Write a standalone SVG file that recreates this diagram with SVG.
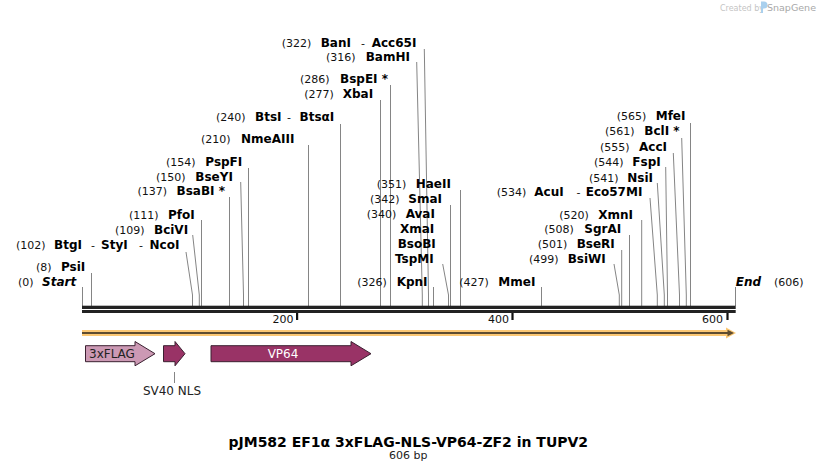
<svg xmlns="http://www.w3.org/2000/svg" width="818" height="472" viewBox="0 0 818 472">
<style>
text{font-family:"DejaVu Sans",Verdana,sans-serif}
.n{font-size:11px;fill:#111}
.e{font-size:12px;font-weight:bold;fill:#000}
.ei{font-size:12px;font-weight:bold;font-style:italic;fill:#000}
.ln{fill:none;stroke:#858585;stroke-width:1}
.tk{font-size:11px;fill:#111;text-anchor:end}
.ft{stroke:#3a2030;stroke-width:1}
</style>
<rect width="818" height="472" fill="#fff"/>
<g id="watermark">
<text x="720" y="10.5" style="font-size:8px;fill:#c4c4c4">Created by</text>
<path d="M761,1.5 h3 a3.5,3.5 0 0 1 0,7 h-1 v4.5 h-2 z" fill="#a9d0ee"/>
<text x="767" y="11" style="font-size:9.5px;fill:#a8a8a8">SnapGene</text>
</g>
<g id="connectors">
<path class="ln" d="M82.5,287V306"/>
<path class="ln" d="M91.5,273V306"/>
<path class="ln" d="M186,252L192.5,295V306"/>
<path class="ln" d="M192.7,235L199.3,295V306"/>
<path class="ln" d="M201.5,220V306"/>
<path class="ln" d="M229.5,197V306"/>
<path class="ln" d="M240.7,182L243.5,295V306"/>
<path class="ln" d="M248.5,168V306"/>
<path class="ln" d="M308.5,145V306"/>
<path class="ln" d="M340.5,124V306"/>
<path class="ln" d="M380.5,100V306"/>
<path class="ln" d="M390.5,85V306"/>
<path class="ln" d="M416.7,62L422.3,295V306"/>
<path class="ln" d="M424.3,49L428.5,295V306"/>
<path class="ln" d="M433.5,287V306"/>
<path class="ln" d="M442.7,264L448.5,295V306"/>
<path class="ln" d="M450.5,205V306"/>
<path class="ln" d="M460.5,190V306"/>
<path class="ln" d="M541.5,287V306"/>
<path class="ln" d="M614,264L619.3,295V306"/>
<path class="ln" d="M621.7,250V306"/>
<path class="ln" d="M629.5,235V306"/>
<path class="ln" d="M641.7,220V306"/>
<path class="ln" d="M650,198L657.3,295V306"/>
<path class="ln" d="M657.3,183L664.3,295V306"/>
<path class="ln" d="M665.7,167L667.5,295V306"/>
<path class="ln" d="M673.3,153L679.5,295V306"/>
<path class="ln" d="M681.7,138L686.3,295V306"/>
<path class="ln" d="M690.5,123V306"/>
<path class="ln" d="M735.5,287V306"/>
<path class="ln" d="M174.5,372V383"/>
</g>
<g id="sequence">
<rect x="82" y="305.7" width="653.7" height="3.3" fill="#222"/>
<rect x="82" y="310" width="653.7" height="3" fill="#222"/>
<rect x="296" y="313" width="2.2" height="7" fill="#111"/>
<rect x="511.4" y="313" width="2.2" height="7" fill="#111"/>
<rect x="726.4" y="313" width="2.2" height="7" fill="#111"/>
<text class="tk" x="293.5" y="323">200</text>
<text class="tk" x="509" y="323">400</text>
<text class="tk" x="723" y="323">600</text>
</g>
<g id="orf">
<rect x="82" y="330" width="646" height="6" fill="#fcc874"/>
<polygon points="726,327.5 736,333 726,338.5" fill="#fcc874"/>
<rect x="82" y="332" width="647" height="2" fill="#5e4c30"/>
<polygon points="727.5,329.8 734,333 727.5,336.2" fill="#5e4c30"/>
</g>
<g id="f-3xFLAG">
<polygon class="ft" points="85.5,345.7 135,345.7 135,341.5 155,353.7 135,365.8 135,361.7 85.5,361.7" fill="#cc99b4"/>
<text x="89" y="357.7" style="font-size:12px;fill:#222">3xFLAG</text>
</g>
<g id="f-SV40NLS">
<polygon class="ft" points="163.5,345.7 175,345.7 175,341.5 185,353.7 175,365.8 175,361.7 163.5,361.7" fill="#993366"/>
<text x="172" y="394.5" text-anchor="middle" style="font-size:12px;fill:#222">SV40 NLS</text>
</g>
<g id="f-VP64">
<polygon class="ft" points="211,345.7 351,345.7 351,341.5 371,353.7 351,365.8 351,361.7 211,361.7" fill="#993366"/>
<text x="283" y="357.7" text-anchor="middle" style="font-size:12px;fill:#fff">VP64</text>
</g>
<g id="e0"><text class="n" x="18" y="286">(0)</text><text class="ei" x="42" y="286">Start</text></g>
<g id="e8"><text class="n" x="36" y="271">(8)</text><text class="e" x="61" y="271">PsiI</text></g>
<g id="e102"><text class="n" x="16" y="249">(102)</text><text class="e" x="54" y="249">BtgI</text><text class="n" x="91" y="249">-</text><text class="e" x="101" y="249">StyI</text><text class="n" x="139" y="249">-</text><text class="e" x="149.5" y="249">NcoI</text></g>
<g id="e109"><text class="n" x="115" y="233.5">(109)</text><text class="e" x="154" y="233.5">BciVI</text></g>
<g id="e111"><text class="n" x="129" y="218.5">(111)</text><text class="e" x="168" y="218.5">PfoI</text></g>
<g id="e137"><text class="n" x="137.5" y="195">(137)</text><text class="e" x="176.5" y="195">BsaBI *</text></g>
<g id="e150"><text class="n" x="156" y="180.5">(150)</text><text class="e" x="195.3" y="180.5">BseYI</text></g>
<g id="e154"><text class="n" x="166" y="165.5">(154)</text><text class="e" x="205.3" y="165.5">PspFI</text></g>
<g id="e210"><text class="n" x="201" y="142.5">(210)</text><text class="e" x="241" y="142.5">NmeAIII</text></g>
<g id="e240"><text class="n" x="216" y="120.7">(240)</text><text class="e" x="255" y="120.7">BtsI</text><text class="n" x="287" y="120.7">-</text><text class="e" x="299.5" y="120.7">BtsαI</text></g>
<g id="e277"><text class="n" x="304.3" y="98.3">(277)</text><text class="e" x="342.7" y="98.3">XbaI</text></g>
<g id="e286"><text class="n" x="300" y="83.3">(286)</text><text class="e" x="340" y="83.3">BspEI *</text></g>
<g id="e316"><text class="n" x="326" y="61">(316)</text><text class="e" x="365.7" y="61">BamHI</text></g>
<g id="e322"><text class="n" x="281.7" y="46.7">(322)</text><text class="e" x="320.7" y="46.7">BanI</text><text class="n" x="361" y="46.7">-</text><text class="e" x="371.7" y="46.7">Acc65I</text></g>
<g id="e326"><text class="n" x="357.3" y="286">(326)</text><text class="e" x="396.7" y="286">KpnI</text></g>
<g id="e340"><text class="n" x="366.7" y="218.3">(340)</text><text class="e" x="405.7" y="218.3">AvaI</text><text class="e" x="400" y="233.3">XmaI</text><text class="e" x="397.7" y="248.3">BsoBI</text><text class="e" x="395" y="263">TspMI</text></g>
<g id="e342"><text class="n" x="370" y="203.3">(342)</text><text class="e" x="408.3" y="203.3">SmaI</text></g>
<g id="e351"><text class="n" x="376.7" y="188.3">(351)</text><text class="e" x="415.7" y="188.3">HaeII</text></g>
<g id="e427"><text class="n" x="459.3" y="286">(427)</text><text class="e" x="498.3" y="286">MmeI</text></g>
<g id="e499"><text class="n" x="529" y="262.7">(499)</text><text class="e" x="567.7" y="262.7">BsiWI</text></g>
<g id="e501"><text class="n" x="537.7" y="248.3">(501)</text><text class="e" x="576.7" y="248.3">BseRI</text></g>
<g id="e508"><text class="n" x="544.3" y="233.3">(508)</text><text class="e" x="584.3" y="233.3">SgrAI</text></g>
<g id="e520"><text class="n" x="559.3" y="219">(520)</text><text class="e" x="598.3" y="219">XmnI</text></g>
<g id="e534"><text class="n" x="496.7" y="196">(534)</text><text class="e" x="534.3" y="196">AcuI</text><text class="n" x="576.5" y="196">-</text><text class="e" x="585.7" y="196">Eco57MI</text></g>
<g id="e541"><text class="n" x="589" y="181.7">(541)</text><text class="e" x="627.3" y="181.7">NsiI</text></g>
<g id="e544"><text class="n" x="594" y="166">(544)</text><text class="e" x="632.3" y="166">FspI</text></g>
<g id="e555"><text class="n" x="600" y="150.7">(555)</text><text class="e" x="639" y="150.7">AccI</text></g>
<g id="e561"><text class="n" x="605" y="135">(561)</text><text class="e" x="644.3" y="135">BclI *</text></g>
<g id="e565"><text class="n" x="616.7" y="120">(565)</text><text class="e" x="655.7" y="120">MfeI</text></g>
<g id="e606"><text class="ei" x="735.7" y="285.7">End</text><text class="n" x="774" y="285.7">(606)</text></g>
<g id="title">
<text x="408.3" y="446.5" text-anchor="middle" style="font-size:14px;font-weight:bold;fill:#000">pJM582 EF1α 3xFLAG-NLS-VP64-ZF2 in TUPV2</text>
<text x="408.3" y="459.3" text-anchor="middle" style="font-size:11px;fill:#222">606 bp</text>
</g>
</svg>
